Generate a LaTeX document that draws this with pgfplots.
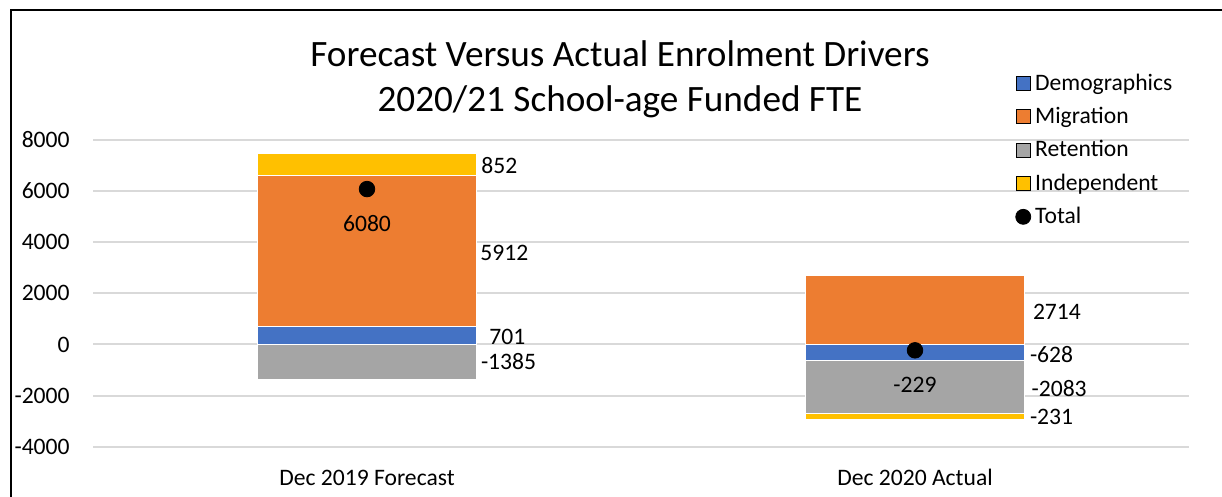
\documentclass[border=0pt]{standalone}
\usepackage{fontspec}
\setmainfont{Carlito}
\usepackage{pgfplots}
\pgfplotsset{compat=1.18}

\definecolor{demblue}{HTML}{4472C4}
\definecolor{migorange}{HTML}{ED7D31}
\definecolor{retgray}{HTML}{A5A5A5}
\definecolor{indgold}{HTML}{FFC000}
\definecolor{gridgray}{HTML}{D9D9D9}

\pgfplotsset{
  chartaxis/.style={
    at={(46.5pt,25.15pt)}, anchor=south west,
    scale only axis, width=548pt, height=153.35pt,
    xmin=-0.5, xmax=1.5, ymin=-4000, ymax=8000,
  },
  legsq/.style={legend image code/.code={\fill[##1] (0pt,-3.5pt) rectangle (7pt,3.5pt);}},
  legdot/.style={legend image code/.code={\fill[black] (3.5pt,0pt) circle (3.75pt);}},
}
\tikzset{lbl/.style={anchor=west, inner sep=0pt, font=\fontsize{11.8}{14}\selectfont}}

\begin{document}
\begin{tikzpicture}
\useasboundingbox (0,0) rectangle (611pt,248.5pt);
\draw[line width=1pt] (5.5pt,0pt) -- (5.5pt,243.5pt) -- (612pt,243.5pt);

\node[anchor=base, font=\fontsize{18.6}{22}\selectfont] at (310pt,215pt) {Forecast Versus Actual Enrolment Drivers};
\node[anchor=base, font=\fontsize{18.6}{22}\selectfont] at (310pt,192.5pt) {2020/21 School-age Funded FTE};

% bars: positives and negatives stack separately from zero
\begin{axis}[chartaxis,
  ybar stacked, bar width=0.4,
  ytick={-4000,-2000,0,2000,4000,6000,8000},
  yticklabels={-4000,-2000,0,2000,4000,6000,8000},
  xtick={0,1}, xticklabels={Dec 2019 Forecast, Dec 2020 Actual},
  ymajorgrids, grid style={draw=gridgray, line width=1pt},
  axis line style={draw=none}, major tick length=0pt,
  tick label style={font=\fontsize{11.8}{14}\selectfont},
  yticklabel style={anchor=east, inner sep=0pt, xshift=-11.5pt},
  xticklabel style={anchor=base, inner sep=0pt, yshift=-19.65pt},
  every axis plot/.append style={draw=white, line width=0.6pt},
]
\addplot[fill=demblue] coordinates {(0,701) (1,-628)};
\addplot[fill=migorange] coordinates {(0,5912) (1,2714)};
\addplot[fill=retgray] coordinates {(0,-1385) (1,-2083)};
\addplot[fill=indgold] coordinates {(0,852) (1,-231)};
\end{axis}

% total markers, data labels and legend
\begin{axis}[chartaxis, hide axis,
  legend cell align=left,
  legend style={at={(0.8412,1.2304)}, anchor=north west, draw=none, fill=none,
    inner sep=0pt, row sep=3pt, font=\fontsize{11.8}{14}\selectfont},
]
\addlegendimage{legsq, fill=demblue}
\addlegendentry{Demographics}
\addlegendimage{legsq, fill=migorange}
\addlegendentry{Migration}
\addlegendimage{legsq, fill=retgray}
\addlegendentry{Retention}
\addlegendimage{legsq, fill=indgold}
\addlegendentry{Independent}
\addlegendimage{legdot}
\addlegendentry{Total}
\addplot[only marks, mark=*, mark size=3.9pt, black, forget plot] coordinates {(0,6080) (1,-229)};

\node[lbl, xshift=2.2pt] at (axis cs:0.2,6984) {852};
\node[lbl, xshift=1.7pt] at (axis cs:0.2,3568) {5912};
\node[lbl, xshift=6.2pt] at (axis cs:0.2,305) {701};
\node[lbl, xshift=2pt] at (axis cs:0.2,-673) {-1385};
\node[lbl, anchor=center] at (axis cs:0,4742) {6080};
\node[lbl, xshift=4pt] at (axis cs:1.2,1283) {2714};
\node[lbl, xshift=2.5pt] at (axis cs:1.2,-411) {-628};
\node[lbl, xshift=3.3pt] at (axis cs:1.2,-1714) {-2083};
\node[lbl, xshift=2.5pt] at (axis cs:1.2,-2825) {-231};
\node[lbl, anchor=center] at (axis cs:1,-1585) {-229};
\end{axis}
\end{tikzpicture}
\end{document}
